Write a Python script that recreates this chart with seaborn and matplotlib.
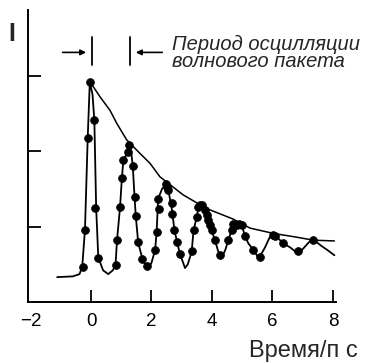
import matplotlib
matplotlib.use("Agg")
import matplotlib.pyplot as plt
import seaborn as sns
import pandas as pd

# oscillating signal
curve_t = [-1.12, -0.6, -0.38, -0.29, -0.2, -0.11, -0.04, 0.05, 0.11, 0.17, 0.24, 0.4, 0.57, 0.72, 0.81,
           0.86, 0.96, 1.02, 1.07, 1.22, 1.27, 1.33, 1.38, 1.44, 1.48, 1.56, 1.70, 1.84, 1.90, 2.0,
           2.12, 2.17, 2.22, 2.35, 2.50, 2.56, 2.67, 2.76, 2.85, 2.94, 3.11, 3.2, 3.33, 3.39, 3.50,
           3.55, 3.64, 3.77, 3.88, 3.99, 4.10, 4.2, 4.32, 4.45, 4.54, 4.65, 4.75, 4.90, 5.00, 5.09,
           5.2, 5.37, 5.55, 5.75, 5.9, 6.03, 6.2, 6.36, 6.6, 6.85, 7.0, 7.2, 7.35, 7.6, 7.85, 8.05]
curve_i = [0.33, 0.34, 0.37, 0.47, 0.96, 2.17, 2.92, 2.75, 2.41, 1.25, 0.59, 0.42, 0.37, 0.42, 0.49,
           0.82, 1.26, 1.64, 1.88, 1.99, 2.08, 1.98, 1.81, 1.39, 1.14, 0.79, 0.57, 0.47, 0.45, 0.52,
           0.69, 0.93, 1.37, 1.50, 1.57, 1.48, 1.24, 0.95, 0.79, 0.64, 0.45, 0.50, 0.67, 0.95, 1.13,
           1.26, 1.30, 1.22, 1.09, 0.95, 0.82, 0.68, 0.58, 0.70, 0.82, 0.95, 1.04, 1.04, 1.00, 0.88,
           0.78, 0.69, 0.58, 0.72, 0.85, 0.90, 0.84, 0.78, 0.72, 0.64, 0.70, 0.79, 0.83, 0.75, 0.68, 0.62]

# measured points
pts_t = [-0.27, -0.2, -0.1, -0.04, 0.1, 0.12, 0.22, 0.81, 0.86, 0.96, 1.02, 1.07, 1.22, 1.27, 1.38,
         1.44, 1.48, 1.56, 1.70, 1.84, 2.12, 2.17, 2.22, 2.24, 2.48, 2.52, 2.56, 2.67, 2.68, 2.76,
         2.85, 2.94, 3.33, 3.39, 3.50, 3.55, 3.62, 3.68, 3.77, 3.82, 3.88, 3.94, 3.99, 4.10, 4.26,
         4.54, 4.65, 4.70, 4.82, 4.90, 4.98, 5.09, 5.37, 5.59, 6.03, 6.10, 6.36, 6.85, 7.35]
pts_i = [0.46, 0.96, 2.17, 2.92, 2.41, 1.25, 0.59, 0.49, 0.82, 1.26, 1.64, 1.88, 1.99, 2.08, 1.81,
         1.39, 1.14, 0.79, 0.57, 0.48, 0.69, 0.93, 1.37, 1.24, 1.57, 1.53, 1.48, 1.31, 1.17, 0.95,
         0.79, 0.64, 0.67, 0.95, 1.13, 1.26, 1.28, 1.28, 1.22, 1.15, 1.09, 1.02, 0.95, 0.82, 0.62,
         0.82, 0.95, 1.04, 1.02, 1.04, 1.02, 0.88, 0.69, 0.60, 0.89, 0.88, 0.78, 0.67, 0.82]

# envelope
env_t = [0.0, 0.3, 0.63, 0.85, 1.18, 1.62, 1.95, 2.28, 3.05, 3.82, 4.70, 5.26, 6.03, 6.80, 7.35, 8.05]
env_i = [2.90, 2.72, 2.54, 2.37, 2.15, 1.97, 1.84, 1.66, 1.42, 1.24, 1.10, 0.98, 0.91, 0.86, 0.82, 0.81]

period = [0.03, 1.29]
xticks = [-2, 0, 2, 4, 6, 8]
xticklabels = ["\u22122", "0", "2", "4", "6", "8"]

sns.set_theme(style="ticks")
plt.rcParams['font.family'] = ['Liberation Sans', 'DejaVu Sans']

fig = plt.figure(figsize=(3.72, 3.63), dpi=100)
ax = fig.add_axes([0.074, 0.168, 0.829, 0.804])

df_c = pd.DataFrame({"t": curve_t, "I": curve_i})
df_e = pd.DataFrame({"t": env_t, "I": env_i})
df_p = pd.DataFrame({"t": pts_t, "I": pts_i})

sns.lineplot(data=df_c, x="t", y="I", sort=False, color="black", lw=1.3, ax=ax)
sns.lineplot(data=df_e, x="t", y="I", sort=False, color="black", lw=1.1, ax=ax)
sns.scatterplot(data=df_p, x="t", y="I", color="black", s=32, edgecolor="black", linewidth=0.5, ax=ax, zorder=3)

ax.set_xlim(-2.1, 8.1)
ax.set_ylim(0, 3.87)
ax.set_xticks(xticks)
ax.set_xticklabels(xticklabels, fontsize=13.5)
ax.set_yticks([1, 2, 3])
ax.set_yticklabels([])
ax.tick_params(direction="in", length=9, width=1.3, colors="black", pad=8)
ax.xaxis.get_major_ticks()[0].tick1line.set_visible(False)
ax.set_xlabel("")
ax.set_ylabel("")
sns.despine(ax=ax)
for s in ["left", "bottom"]:
    ax.spines[s].set_linewidth(1.4)
    ax.spines[s].set_color("black")

# period markers
for p in period:
    ax.plot([p, p], [3.14, 3.51], color="black", lw=1.3)
ax.annotate("", xy=(period[0] - 0.1, 3.31), xytext=(-1.03, 3.31),
            arrowprops=dict(arrowstyle="-|>", color="black", lw=1.2, mutation_scale=8))
ax.annotate("", xy=(period[1] + 0.1, 3.31), xytext=(2.45, 3.31),
            arrowprops=dict(arrowstyle="-|>", color="black", lw=1.2, mutation_scale=8))
ax.text(2.68, 3.30, "Период осцилляции\nволнового пакета", fontsize=14.5, style="italic",
        ha="left", va="center", linespacing=0.85)

fig.text(12 / 372, 1 - 34 / 363, "I", fontsize=18, fontweight="bold", ha="center", va="center")
fig.text(358 / 372, 1 - 351 / 363, "Время/п с", fontsize=17, ha="right", va="center")

fig.savefig("out.png", dpi=100)
